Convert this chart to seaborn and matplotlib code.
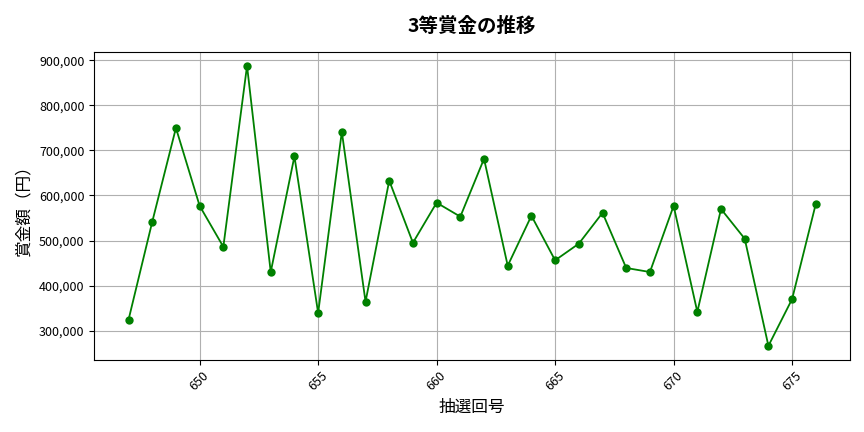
import seaborn as sns
import matplotlib.pyplot as plt
import matplotlib.ticker as mticker
import pandas as pd

# 抽選回号 and 3等賞金 (yen)
draws = list(range(647, 677))
prize = [324000, 541500, 750000, 577000, 486000, 888000, 430000, 687000, 339000, 741500,
         364000, 633000, 495000, 584000, 553000, 681500, 444000, 555000, 456000, 493000,
         561500, 439000, 430000, 577000, 341500, 570000, 504000, 266000, 370000, 581500]

df = pd.DataFrame({'draw': draws, 'prize': prize})

plt.rcParams['font.family'] = ['Noto Sans CJK JP', 'DejaVu Sans']

fig, ax = plt.subplots(figsize=(8.64, 4.32), dpi=100)
sns.lineplot(data=df, x='draw', y='prize', marker='o', color='green',
             markersize=6, markeredgewidth=0, linewidth=1.3, ax=ax)

ax.set_title("3等賞金の推移", fontsize=14, fontweight='bold', pad=14)
ax.set_xlabel("抽選回号", fontsize=12, labelpad=4)
ax.set_ylabel("賞金額（円）", fontsize=12, labelpad=5)
ax.yaxis.set_major_formatter(mticker.FuncFormatter(lambda v, p: f'{int(v):,}'))
ax.tick_params(axis='both', labelsize=9)
plt.xticks(rotation=45)
ax.grid(True)

plt.subplots_adjust(left=0.109, right=0.984, top=0.880, bottom=0.167)
plt.savefig('out.png')
